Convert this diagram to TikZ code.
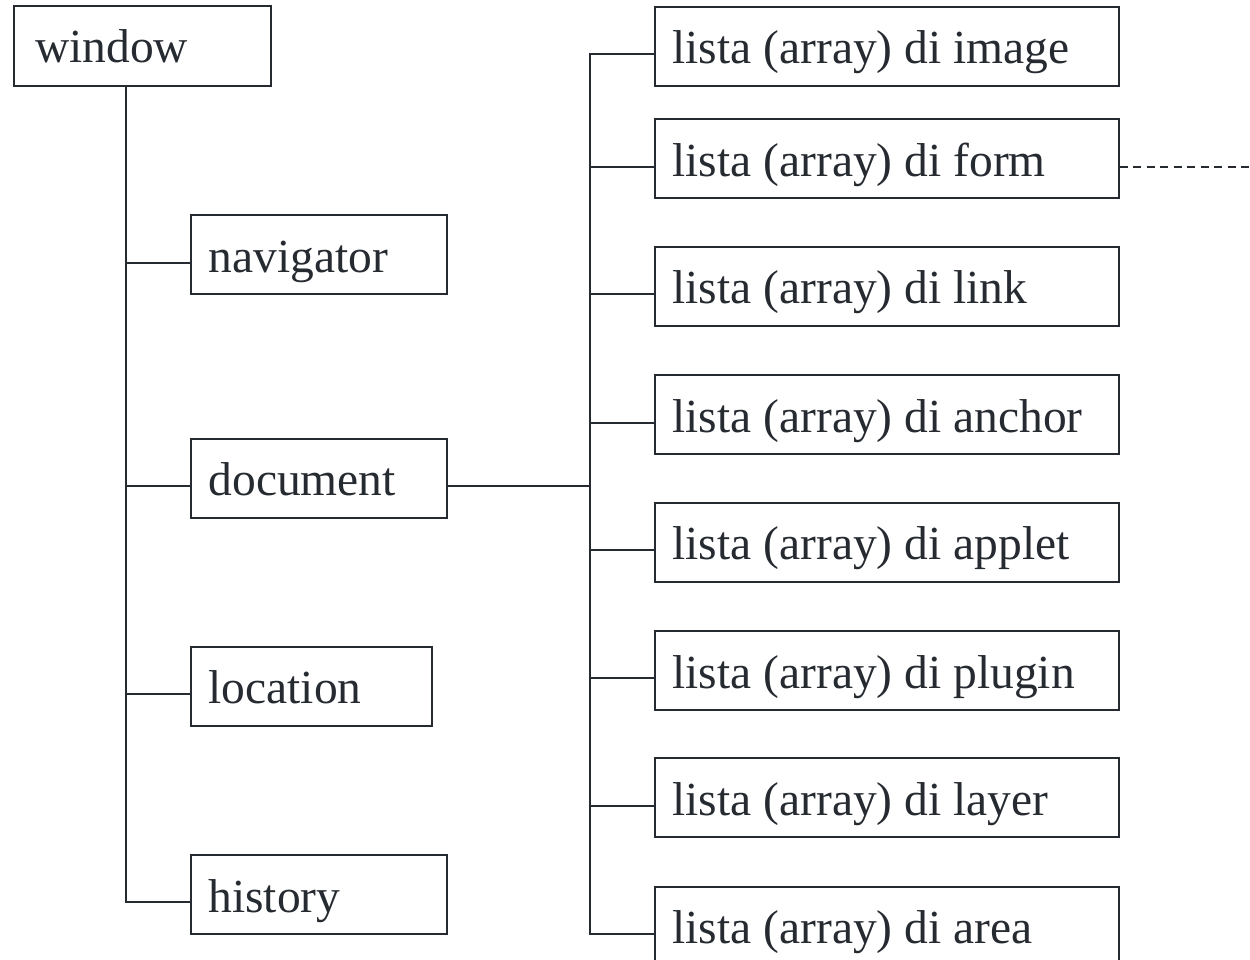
\documentclass[tikz,border=0pt]{standalone}
\usepackage{fontspec}
\setmainfont{Liberation Serif}
\definecolor{ink}{HTML}{262A31}
% left-aligned label inside a box of fixed text width
\newcommand{\boxlabel}[2]{\makebox[#1][l]{#2}}
\begin{document}
\begin{tikzpicture}[x=1pt,y=-1pt,
  box/.style={draw=ink, line width=2pt, rectangle, anchor=north west,
    inner xsep=18pt, inner ysep=0pt, text height=57pt, text depth=22pt,
    text=ink, font=\fontsize{47.5}{57}\selectfont},
  wire/.style={draw=ink, line width=2pt},
  link/.style={wire, dash pattern=on 8pt off 5.5pt}]
\useasboundingbox (0,0) rectangle (1250,960);

% object hierarchy: left column
\node[box, inner xsep=21pt, text depth=23pt] (window) at (13,5) {\boxlabel{215pt}{window}};
\node[box] (navigator) at (189.5,214.3) {\boxlabel{220pt}{navigator}};
\node[box] (document)  at (189.5,437.5) {\boxlabel{220pt}{document}};
\node[box] (location)  at (189.5,645.7) {\boxlabel{205pt}{location}};
\node[box] (history)   at (189.5,854)   {\boxlabel{220pt}{history}};

% collections of the document object
\node[box] (lImage)  at (653.5,6)     {\boxlabel{428pt}{lista (array) di image}};
\node[box] (lForm)   at (653.5,118.5) {\boxlabel{428pt}{lista (array) di form}};
\node[box] (lLink)   at (653.5,245.7) {\boxlabel{428pt}{lista (array) di link}};
\node[box] (lAnchor) at (653.5,374.3) {\boxlabel{428pt}{lista (array) di anchor}};
\node[box] (lApplet) at (653.5,501.7) {\boxlabel{428pt}{lista (array) di applet}};
\node[box] (lPlugin) at (653.5,630)   {\boxlabel{428pt}{lista (array) di plugin}};
\node[box] (lLayer)  at (653.5,757.3) {\boxlabel{428pt}{lista (array) di layer}};
\node[box] (lArea)   at (653.5,885.5) {\boxlabel{428pt}{lista (array) di area}};

% attachment points of the branches
\foreach \n in {navigator,document,location,history,
                lImage,lForm,lLink,lAnchor,lApplet,lPlugin,lLayer,lArea}
  \coordinate (b\n) at ([yshift=9.8pt]\n.base west);
\coordinate (trunkL) at (125.7,0);
\coordinate (trunkR) at (589.5,0);
\coordinate (dashEnd) at (1250,0);

% left tree
\draw[wire] (trunkL |- window.south) -- (trunkL |- bhistory) -- (bhistory);
\draw[wire] (trunkL |- bnavigator) -- (bnavigator);
\draw[wire] (trunkL |- bdocument) -- (bdocument);
\draw[wire] (trunkL |- blocation) -- (blocation);

% right tree
\draw[wire] (document.east |- bdocument) -- (trunkR |- bdocument);
\draw[wire] (blImage) -- (trunkR |- blImage) -- (trunkR |- blArea) -- (blArea);
\foreach \n in {lForm,lLink,lAnchor,lApplet,lPlugin,lLayer}
  \draw[wire] (trunkR |- b\n) -- (b\n);

% continuation from the form list
\draw[link] (lForm.east |- blForm) -- (dashEnd |- blForm);
\end{tikzpicture}
\end{document}
